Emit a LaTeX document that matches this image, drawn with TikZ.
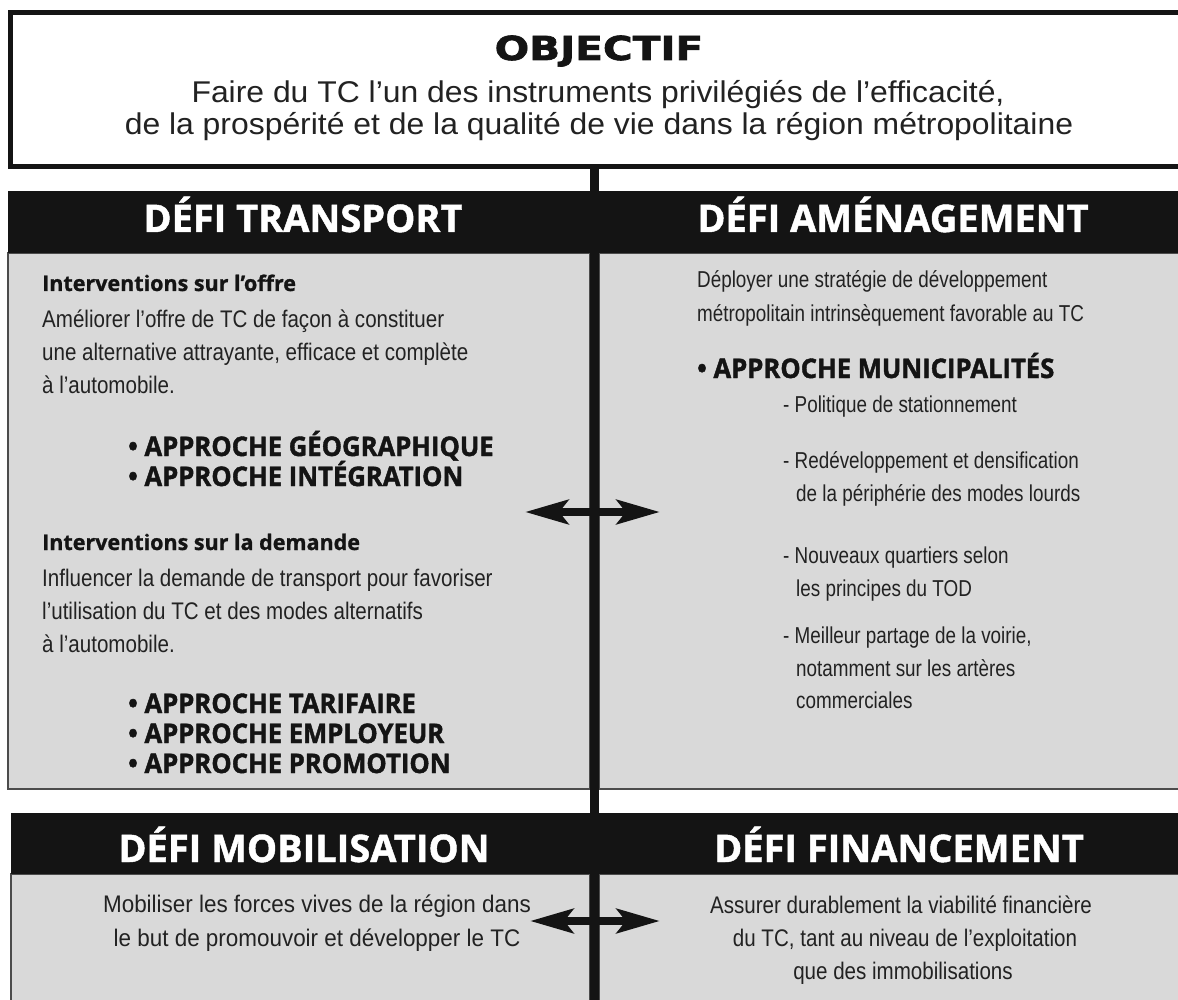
\documentclass[tikz,border=0pt]{standalone}
\usepackage{fontspec}
\setmainfont{Liberation Sans}
\newfontfamily\topfont{Liberation Sans}[FakeStretch=1.063]
\newfontfamily\panelLfont{Liberation Sans}[FakeStretch=0.857]
\newfontfamily\panelRfont{Liberation Sans}[FakeStretch=0.82]
\newfontfamily\botLfont{Liberation Sans}[FakeStretch=0.935]
\newfontfamily\botRfont{Liberation Sans}[FakeStretch=0.857]
\newfontfamily\headfont{Open Sans}[BoldFeatures={FakeBold=1.2}]
\newfontfamily\subfont{Open Sans}[BoldFeatures={FakeBold=1}]
\newfontfamily\apprfont{Open Sans}[BoldFeatures={FakeBold=1.5,FakeStretch=0.95}]
\newfontfamily\objfont{DejaVu Sans}[BoldFeatures={FakeBold=2,FakeStretch=1.23}]
\usetikzlibrary{arrows.meta}
\definecolor{ink}{HTML}{141414}
\definecolor{panelgray}{HTML}{D9D9D9}
\definecolor{txt}{HTML}{222222}
\begin{document}
\begin{tikzpicture}[x=1pt,y=-1pt,
 panel/.style={fill=panelgray, draw=black!70, line width=1.2pt},
 bar/.style={fill=ink},
 hdr/.style={font=\headfont\bfseries\fontsize{38}{42}\selectfont, text=white, inner sep=0, anchor=base},
 objt/.style={font=\objfont\bfseries\fontsize{33}{36}\selectfont, text=ink, inner sep=0, anchor=base},
 toptxt/.style={font=\topfont\fontsize{30}{33}\selectfont, text=txt, inner sep=0, anchor=base},
 body/.style={font=\panelLfont\fontsize{24}{33}\selectfont, text=txt, inner sep=0, anchor=base west},
 bodyr/.style={font=\panelRfont\fontsize{23}{33}\selectfont, text=txt, inner sep=0, anchor=base west},
 botl/.style={font=\botLfont\fontsize{24}{33}\selectfont, text=txt, inner sep=0, anchor=base},
 botr/.style={font=\botRfont\fontsize{24}{33}\selectfont, text=txt, inner sep=0, anchor=base},
 subh/.style={font=\subfont\bfseries\fontsize{21.5}{24}\selectfont, text=ink, inner sep=0, anchor=base west},
 appr/.style={font=\apprfont\bfseries\fontsize{27}{30}\selectfont, text=ink, inner sep=0, anchor=base west},
 dbl/.style={line width=8.5pt, draw=ink, {Stealth[length=43pt,width=24pt,inset=9pt]}-{Stealth[length=43pt,width=24pt,inset=9pt]}}
]
\useasboundingbox (0,0) rectangle (1178,1000);
\fill[white] (0,0) rectangle (1178,1000);
% objective box
\draw[line width=5pt, draw=ink] (1195,12.5) -- (10.5,12.5) -- (10.5,167) -- (1195,167);
% panels
\draw[panel] (8,253) rectangle (590,789);
\draw[panel] (599,253) rectangle (1190,789);
\draw[panel] (11,874) rectangle (590,1010);
\draw[panel] (599,874) rectangle (1190,1010);
% header bars
\fill[bar] (8,191) rectangle (1190,253);
\fill[bar] (11,813) rectangle (1190,874);
% spine
\fill[ink] (590,167) rectangle (599,1010);
% arrows
\coordinate (aL) at (525,512);
\coordinate (aR) at (660,512);
\draw[dbl] (aL) -- (aR);
\coordinate (bL) at (530,921);
\coordinate (bR) at (660,921);
\draw[dbl] (bL) -- (bR);
% objective text
\node[objt] (obj) at (599,60) {OBJECTIF};
\node[toptxt] (o1) at (598,103) {Faire du TC l’un des instruments privilégiés de l’efficacité,};
\node[toptxt] (o2) at (599,135) {de la prospérité et de la qualité de vie dans la région métropolitaine};
% headers
\node[hdr] (hT) at (303,232) {DÉFI TRANSPORT};
\node[hdr] (hA) at (893,232) {DÉFI AMÉNAGEMENT};
\node[hdr] (hM) at (304,862) {DÉFI MOBILISATION};
\node[hdr] (hF) at (899,862) {DÉFI FINANCEMENT};
% left panel
\node[subh] (s1) at (42,291) {Interventions sur l’offre};
\node[body] (t1) at (42,327) {Améliorer l’offre de TC de façon à constituer};
\node[body] (t2) at (42,360) {une alternative attrayante, efficace et complète};
\node[body] (t3) at (42,393) {à l’automobile.};
\node[appr] (p1) at (128,456) {• APPROCHE GÉOGRAPHIQUE};
\node[appr] (p2) at (128,486) {• APPROCHE INTÉGRATION};
\node[subh] (s2) at (42,550) {Interventions sur la demande};
\node[body] (t4) at (42,586) {Influencer la demande de transport pour favoriser};
\node[body] (t5) at (42,619) {l’utilisation du TC et des modes alternatifs};
\node[body] (t6) at (42,652) {à l’automobile.};
\node[appr] (p3) at (128,713) {• APPROCHE TARIFAIRE};
\node[appr] (p4) at (128,743) {• APPROCHE EMPLOYEUR};
\node[appr] (p5) at (128,773) {• APPROCHE PROMOTION};
% right panel
\node[bodyr] (r1) at (697,288) {Déployer une stratégie de développement};
\node[bodyr] (r2) at (697,322) {métropolitain intrinsèquement favorable au TC};
\node[appr] (p6) at (697,378) {• APPROCHE MUNICIPALITÉS};
\node[bodyr] (m1) at (783,412) {- Politique de stationnement};
\node[bodyr] (m2) at (783,468) {- Redéveloppement et densification};
\node[bodyr] (m3) at (796,501) {de la périphérie des modes lourds};
\node[bodyr] (m4) at (783,563) {- Nouveaux quartiers selon};
\node[bodyr] (m5) at (796,596) {les principes du TOD};
\node[bodyr] (m6) at (783,643) {- Meilleur partage de la voirie,};
\node[bodyr] (m7) at (796,676) {notamment sur les artères};
\node[bodyr] (m8) at (796,708) {commerciales};
% bottom panels
\node[botl] (b1) at (317,912) {Mobiliser les forces vives de la région dans};
\node[botl] (b2) at (317,946) {le but de promouvoir et développer le TC};
\node[botr] (f1) at (901,913) {Assurer durablement la viabilité financière};
\node[botr] (f2) at (905,946) {du TC, tant au niveau de l’exploitation};
\node[botr] (f3) at (903,979) {que des immobilisations};
\end{tikzpicture}
\end{document}
